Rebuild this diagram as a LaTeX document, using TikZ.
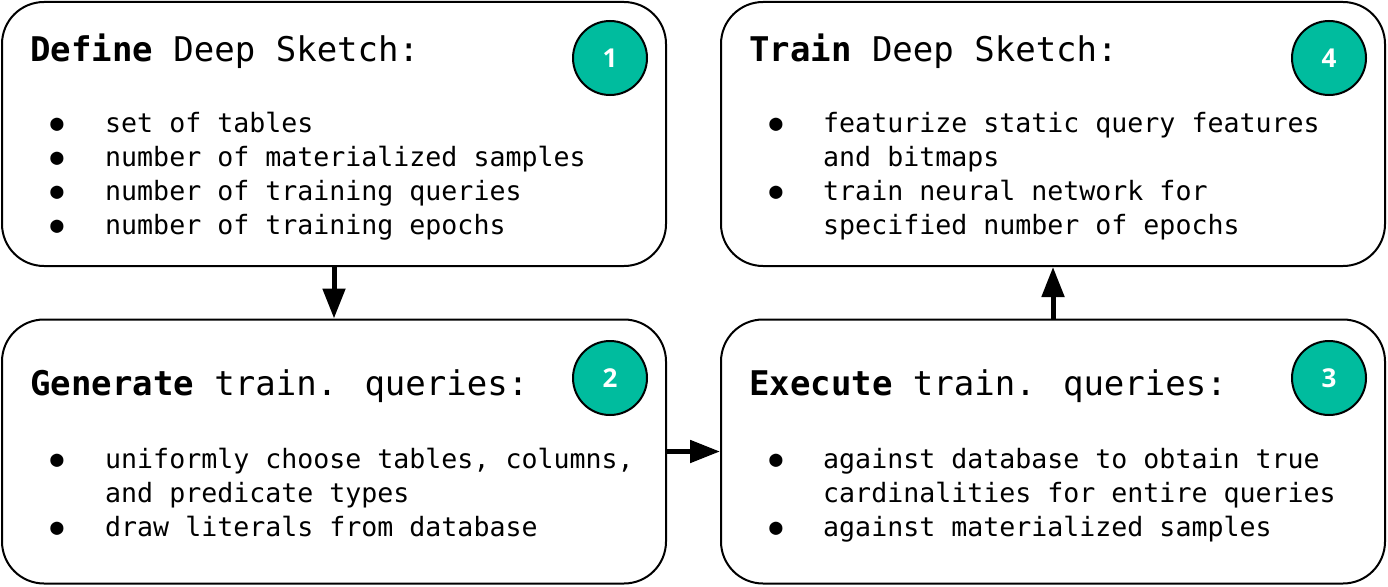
\documentclass[tikz,border=0pt]{standalone}
\usepackage{fontspec}
\newfontfamily\codefont{DejaVu Sans Mono}
\newfontfamily\numfont{Open Sans}
\usetikzlibrary{arrows.meta}
\definecolor{tealc}{HTML}{00BC9E}
\begin{document}
\begin{tikzpicture}[x=1pt,y=-1pt,
  box/.style={draw,line width=2pt,rounded corners=42pt,minimum width=664pt,minimum height=264pt,inner sep=0pt},
  num/.style={circle,draw,line width=2pt,fill=tealc,minimum size=74pt,inner sep=0pt,text=white,font=\numfont\bfseries\fontsize{26}{26}\selectfont},
  ttl/.style={anchor=base west,inner sep=0pt,font=\codefont\fontsize{34}{40}\selectfont},
  itm/.style={anchor=base west,inner sep=0pt,font=\codefont\fontsize{26.6}{34}\selectfont},
  bul/.style={anchor=center,inner sep=0pt,font=\codefont\fontsize{22}{22}\selectfont},
  arr/.style={line width=5pt,-{Triangle[length=30pt,width=22pt]}}]
\useasboundingbox (0,0) rectangle (1388,586);
% boxes
\node[box] (b1) at (334,134) {};
\node[box] (b4) at (1053,134) {};
\node[box] (b2) at (334,451.5) {};
\node[box] (b3) at (1053,451.5) {};
% numbers
\node[num] (n1) at (610,58) {1};
\node[num] (n4) at (1329,58) {4};
\node[num] (n2) at (610,378) {2};
\node[num] (n3) at (1329,378) {3};
% box 1
\node[ttl] (t1) at (30,62) {\textbf{Define} Deep Sketch:};
\node[bul] (u11) at (57,125) {●};
\node[bul] (u12) at (57,159) {●};
\node[bul] (u13) at (57,193) {●};
\node[bul] (u14) at (57,227) {●};
\node[itm] (i11) at (105,132) {set of tables};
\node[itm] (i12) at (105,166) {number of materialized samples};
\node[itm] (i13) at (105,200) {number of training queries};
\node[itm] (i14) at (105,234) {number of training epochs};
% box 4
\node[ttl] (t4) at (749,62) {\textbf{Train} Deep Sketch:};
\node[bul] (u41) at (776,125) {●};
\node[bul] (u42) at (776,193) {●};
\node[itm] (i41) at (823,132) {featurize static query features};
\node[itm] (i42) at (823,166) {and bitmaps};
\node[itm] (i43) at (823,200) {train neural network for};
\node[itm] (i44) at (823,234) {specified number of epochs};
% box 2
\node[ttl] (t2) at (30,395) {\textbf{Generate} train. queries:};
\node[bul] (u21) at (57,461) {●};
\node[bul] (u22) at (57,529) {●};
\node[itm] (i21) at (105,468) {uniformly choose tables, columns,};
\node[itm] (i22) at (105,502) {and predicate types};
\node[itm] (i23) at (105,536) {draw literals from database};
% box 3
\node[ttl] (t3) at (749,395) {\textbf{Execute} train. queries:};
\node[bul] (u31) at (776,461) {●};
\node[bul] (u32) at (776,529) {●};
\node[itm] (i31) at (823,468) {against database to obtain true};
\node[itm] (i32) at (823,502) {cardinalities for entire queries};
\node[itm] (i33) at (823,536) {against materialized samples};
% arrows
\draw[arr] (b1.south) -- (b2.north);
\draw[arr] (b2.east) -- (b3.west);
\draw[arr] (b3.north) -- (b4.south);
\end{tikzpicture}
\end{document}
